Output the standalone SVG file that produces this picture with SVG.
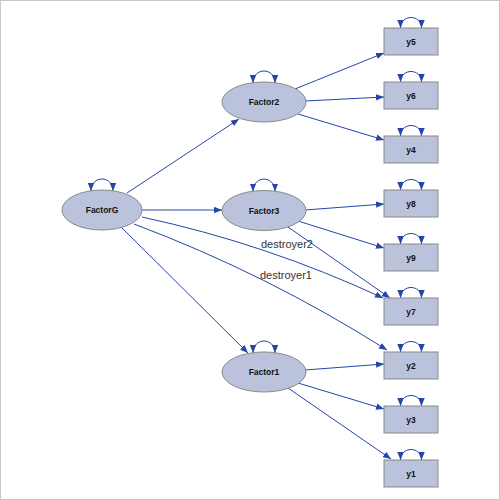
<svg xmlns="http://www.w3.org/2000/svg" width="500" height="500" viewBox="0 0 500 500">
<style>
.lat{fill:#bbc3dc;stroke:#8a8a8a;stroke-width:1}
.obs{fill:#bbc3dc;stroke:#8a8a8a;stroke-width:1}
.lbl{font-family:"Liberation Sans",Arial,sans-serif;font-size:8.5px;font-weight:bold;fill:#111;text-anchor:middle;dominant-baseline:central}
.elbl{font-family:"Liberation Sans",Arial,sans-serif;font-size:11px;fill:#333;text-anchor:middle}
.c{fill:none;stroke:#2446a8;stroke-width:1;marker-end:url(#ah)}
.loop{fill:none;stroke:#2446a8;stroke-width:1;marker-start:url(#ah);marker-end:url(#ah)}
</style>
<defs>
<marker id="ah" markerUnits="userSpaceOnUse" markerWidth="8" markerHeight="7" refX="8" refY="3.5" orient="auto-start-reverse">
<path d="M0,0.3 L8,3.5 L0,6.7 z" fill="#2446a8"/>
</marker>
</defs>
<rect x="0.5" y="0.5" width="499" height="499" fill="#fff" stroke="#c8c8c8"/>
<g id="connectors">
<line class="c" x1="127" y1="193" x2="239" y2="119"/>
<line class="c" x1="142" y1="210" x2="222" y2="210"/>
<line class="c" x1="122" y1="228" x2="248" y2="353"/>
<path class="c" d="M142,217 Q267,244 383,298"/>
<path class="c" d="M134,224 Q267,274 387,350"/>
<line class="c" x1="295" y1="89" x2="384" y2="53"/>
<line class="c" x1="305" y1="101" x2="384" y2="97"/>
<line class="c" x1="298" y1="114" x2="384" y2="140"/>
<line class="c" x1="305" y1="210" x2="384" y2="204"/>
<line class="c" x1="298" y1="221" x2="384" y2="248"/>
<line class="c" x1="288" y1="227" x2="390" y2="298"/>
<line class="c" x1="305" y1="370" x2="384" y2="364"/>
<line class="c" x1="298" y1="383" x2="384" y2="409"/>
<line class="c" x1="288" y1="388" x2="391" y2="459"/>
<path class="loop" d="M91,191 C91,175 113,175 113,191"/>
<path class="loop" d="M253,83 C253,67 275,67 275,83"/>
<path class="loop" d="M253,191.5 C253,175 275,175 275,191.5"/>
<path class="loop" d="M253,353 C253,337 275,337 275,353"/>
<path class="loop" d="M400.5,28 C400.5,14 421.5,14 421.5,28"/>
<path class="loop" d="M400.5,82 C400.5,68 421.5,68 421.5,82"/>
<path class="loop" d="M400.5,136 C400.5,122 421.5,122 421.5,136"/>
<path class="loop" d="M400.5,190 C400.5,176 421.5,176 421.5,190"/>
<path class="loop" d="M400.5,244 C400.5,230 421.5,230 421.5,244"/>
<path class="loop" d="M400.5,298 C400.5,284 421.5,284 421.5,298"/>
<path class="loop" d="M400.5,352 C400.5,338 421.5,338 421.5,352"/>
<path class="loop" d="M400.5,406 C400.5,392 421.5,392 421.5,406"/>
<path class="loop" d="M400.5,460 C400.5,446 421.5,446 421.5,460"/>
<text class="elbl" x="287" y="248">destroyer2</text>
<text class="elbl" x="286" y="279">destroyer1</text>
</g>
<g id="FactorG"><ellipse class="lat" cx="102" cy="210" rx="40" ry="20"/><text class="lbl" x="102" y="210">FactorG</text></g>
<g id="Factor2"><ellipse class="lat" cx="264" cy="102" rx="42" ry="20"/><text class="lbl" x="264" y="102">Factor2</text></g>
<g id="Factor3"><ellipse class="lat" cx="264" cy="210.5" rx="42" ry="20"/><text class="lbl" x="264" y="210.5">Factor3</text></g>
<g id="Factor1"><ellipse class="lat" cx="264" cy="372" rx="42" ry="20"/><text class="lbl" x="264" y="372">Factor1</text></g>
<g id="y5"><rect class="obs" x="384" y="28" width="54" height="27"/><text class="lbl" x="411" y="41.5">y5</text></g>
<g id="y6"><rect class="obs" x="384" y="82" width="54" height="27"/><text class="lbl" x="411" y="95.5">y6</text></g>
<g id="y4"><rect class="obs" x="384" y="136" width="54" height="27"/><text class="lbl" x="411" y="149.5">y4</text></g>
<g id="y8"><rect class="obs" x="384" y="190" width="54" height="27"/><text class="lbl" x="411" y="203.5">y8</text></g>
<g id="y9"><rect class="obs" x="384" y="244" width="54" height="27"/><text class="lbl" x="411" y="257.5">y9</text></g>
<g id="y7"><rect class="obs" x="384" y="298" width="54" height="27"/><text class="lbl" x="411" y="311.5">y7</text></g>
<g id="y2"><rect class="obs" x="384" y="352" width="54" height="27"/><text class="lbl" x="411" y="365.5">y2</text></g>
<g id="y3"><rect class="obs" x="384" y="406" width="54" height="27"/><text class="lbl" x="411" y="419.5">y3</text></g>
<g id="y1"><rect class="obs" x="384" y="460" width="54" height="27"/><text class="lbl" x="411" y="473.5">y1</text></g>
</svg>
